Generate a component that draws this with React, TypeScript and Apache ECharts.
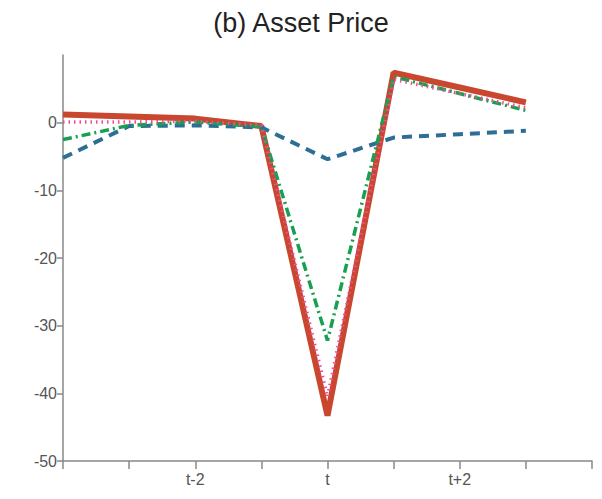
import React, { useEffect, useRef } from "react";
import * as echarts from "echarts";

const categories = ["t-4", "t-3", "t-2", "t-1", "t", "t+1", "t+2", "t+3", "t+4"];
const shownLabels = ["t-2", "t", "t+2"];
const yTicks = [-50, -40, -30, -20, -10, 0];

const redSolid = [1.2, 0.9, 0.6, -0.5, -43.3, 7.4, 5.2, 3.0];
const pinkDotted = [0.1, 0.1, 0.2, -0.4, -40.5, 6.4, 4.3, 2.2];
const greenDashDot = [-2.5, -0.4, 0.1, -0.6, -32.2, 6.8, 4.3, 1.8];
const blueDashed = [-5.2, -0.5, -0.4, -0.7, -5.4, -2.2, -1.7, -1.2];

export default function App() {
  const ref = useRef<HTMLDivElement>(null);
  useEffect(() => {
    const chart = echarts.init(ref.current!, null, { renderer: "svg" });
    const font = "'Liberation Sans', 'DejaVu Sans', sans-serif";
    chart.setOption({
      animation: false,
      backgroundColor: "#ffffff",
      title: {
        text: "(b) Asset Price",
        left: "center",
        top: 4,
        textStyle: { fontFamily: font, fontSize: 27, fontWeight: "normal", color: "#222" },
      },
      grid: { left: 63, right: 10, top: 55, bottom: 38, containLabel: false },
      xAxis: {
        type: "category",
        data: categories,
        boundaryGap: false,
        axisLine: { onZero: false, lineStyle: { color: "#888", width: 1.5 } },
        axisTick: { interval: 0, length: 8, lineStyle: { color: "#888", width: 1.5 } },
        axisLabel: {
          interval: (i: number, v: string) => shownLabels.includes(v),
          color: "#555",
          fontSize: 16,
          fontFamily: font,
          margin: 10,
        },
        splitLine: { show: false },
      },
      yAxis: {
        type: "value",
        min: -50,
        max: 10,
        axisLine: { show: true, lineStyle: { color: "#888", width: 1.5 } },
        axisTick: { show: true, length: 6, customValues: yTicks, lineStyle: { color: "#888", width: 1.5 } },
        axisLabel: { customValues: yTicks, color: "#555", fontSize: 16, fontFamily: font, margin: 6 },
        splitLine: { show: false },
      },
      series: [
        {
          type: "line",
          data: blueDashed,
          symbol: "none",
          lineStyle: { color: "#2e6e94", width: 4, type: [10, 7] },
          z: 2,
        },
        {
          type: "line",
          data: greenDashDot,
          symbol: "none",
          lineStyle: { color: "#16a050", width: 3.5, type: [9, 4, 2, 4] },
          z: 3,
        },
        {
          type: "line",
          data: pinkDotted,
          symbol: "none",
          lineStyle: { color: "#ec4f98", width: 3.5, type: [1.5, 4] },
          z: 4,
        },
        {
          type: "line",
          data: redSolid,
          symbol: "none",
          lineStyle: { color: "#c9472e", width: 6 },
          z: 1,
        },
      ],
    });
    return () => chart.dispose();
  }, []);
  return <div ref={ref} style={{ width: 602, height: 499, margin: -8 }} />;
}
